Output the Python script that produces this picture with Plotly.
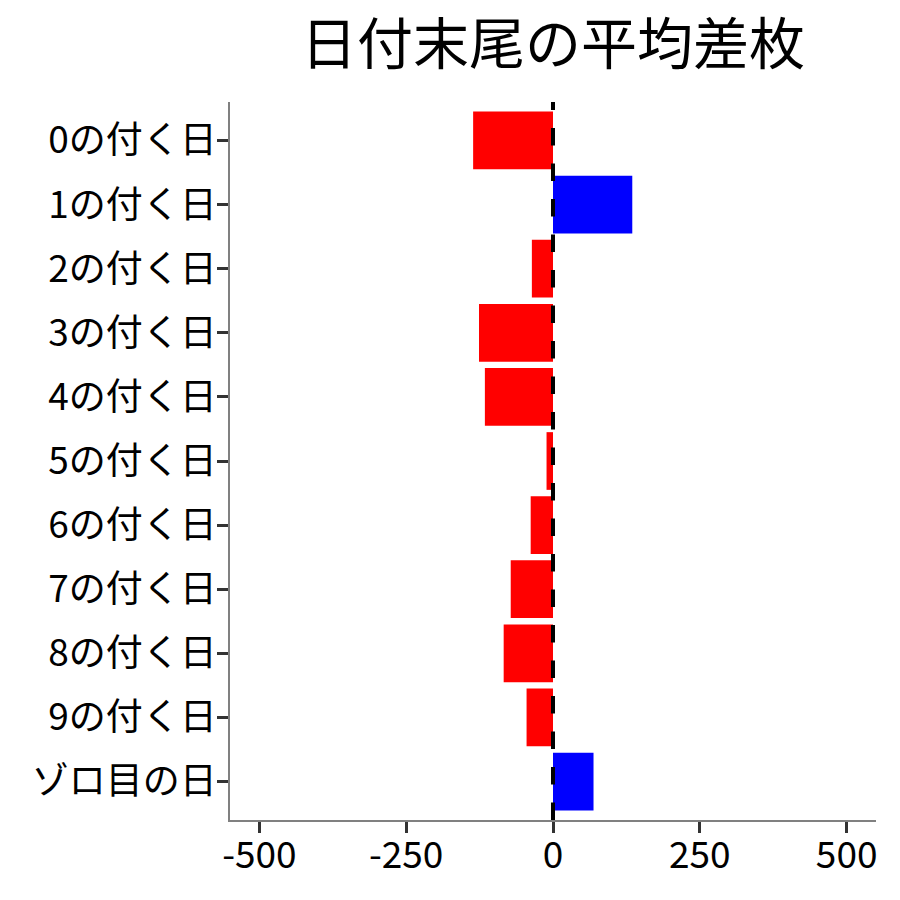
import plotly.graph_objects as go

categories = ["0の付く日", "1の付く日", "2の付く日", "3の付く日", "4の付く日",
              "5の付く日", "6の付く日", "7の付く日", "8の付く日", "9の付く日", "ゾロ目の日"]
values = [-136, 135, -36, -126, -116, -11, -38, -72, -84, -45, 69]
x_ticks = [-500, -250, 0, 250, 500]
title_text = "日付末尾の平均差枚"

colors = ["#FF0000" if v < 0 else "#0000FF" for v in values]

FONT = "Noto Sans CJK JP"
W = H = 892  # page has an 8px body margin

fig = go.Figure()
fig.add_trace(go.Bar(
    x=values, y=categories, orientation="h",
    marker=dict(color=colors, line=dict(width=0)),
    width=0.9, showlegend=False,
))

fig.add_shape(type="line", xref="x", yref="paper", x0=0, x1=0, y0=0, y1=1,
              line=dict(color="black", width=4, dash="17.5px,18px"), layer="above")

fig.update_layout(
    width=W, height=H,
    margin=dict(l=222, r=24, t=94, b=80),
    paper_bgcolor="white", plot_bgcolor="white",
    font=dict(family=FONT, color="black"),
    title=dict(text=title_text, x=(222 + 868) / 2 / W, xanchor="center",
               y=1 - 36 / H, yanchor="middle",
               font=dict(family=FONT, size=56, color="black")),
    xaxis=dict(range=[-550, 550], tickvals=x_ticks, ticktext=[str(t) for t in x_ticks],
               showgrid=False, zeroline=False, showline=True, linecolor="#808080", linewidth=1.5,
               ticks="outside", ticklen=11, tickwidth=3, tickcolor="#333333",
               ticklabelstandoff=-9,
               tickfont=dict(family=FONT, size=37, color="black")),
    yaxis=dict(categoryorder="array", categoryarray=categories, autorange=False,
               range=[len(categories) - 0.4, -0.6],
               showgrid=False, zeroline=False, showline=True, linecolor="#808080", linewidth=1.5,
               ticks="outside", ticklen=11, tickwidth=3, tickcolor="#333333",
               ticklabelstandoff=-7,
               tickfont=dict(family=FONT, size=37, color="black")),
    bargap=0.1,
)

fig.write_html("out.html")
